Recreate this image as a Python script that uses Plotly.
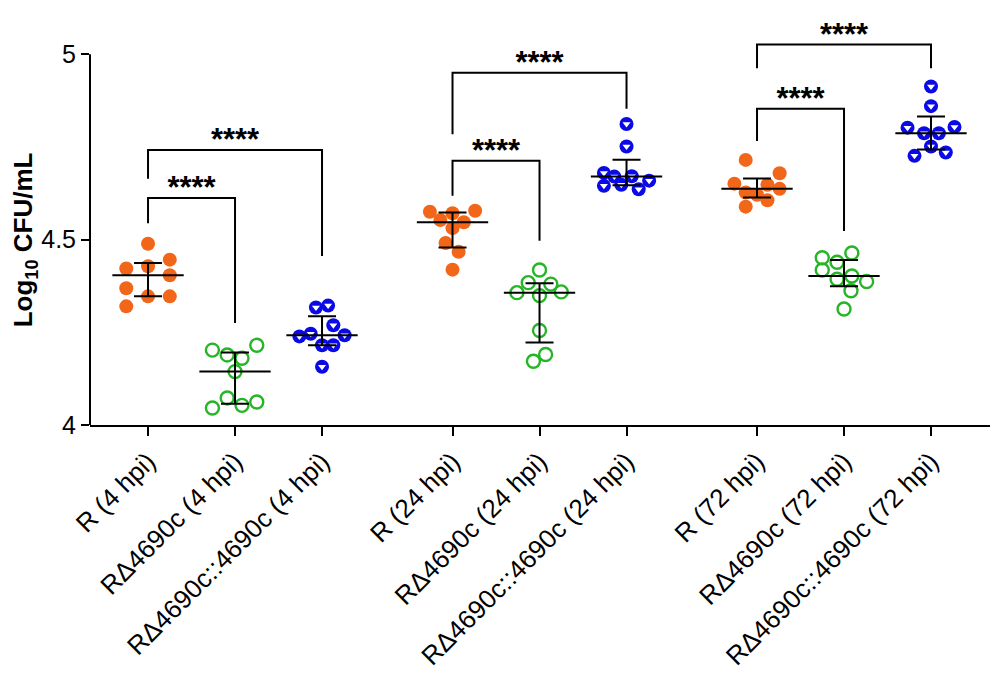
import numpy as np
import plotly.graph_objects as go

# groups: R, RΔ4690c, RΔ4690c::4690c at 4, 24 and 72 hpi
labels = [
    "R (4 hpi)", "RΔ4690c (4 hpi)", "RΔ4690c::4690c (4 hpi)",
    "R (24 hpi)", "RΔ4690c (24 hpi)", "RΔ4690c::4690c (24 hpi)",
    "R (72 hpi)", "RΔ4690c (72 hpi)", "RΔ4690c::4690c (72 hpi)",
]

# log10 CFU/mL
r_4hpi = [4.489, 4.446, 4.422, 4.428, 4.404, 4.369, 4.347, 4.347, 4.320]
del_4hpi = [4.202, 4.215, 4.189, 4.180, 4.144, 4.073, 4.062, 4.053, 4.046]
comp_4hpi = [4.317, 4.322, 4.269, 4.239, 4.246, 4.242, 4.215, 4.215, 4.157]
r_24hpi = [4.575, 4.571, 4.578, 4.553, 4.547, 4.531, 4.491, 4.467, 4.419]
del_24hpi = [4.418, 4.384, 4.380, 4.357, 4.349, 4.359, 4.255, 4.190, 4.172]
comp_24hpi = [4.812, 4.751, 4.680, 4.670, 4.671, 4.659, 4.645, 4.648, 4.636]
r_72hpi = [4.715, 4.679, 4.651, 4.648, 4.637, 4.627, 4.621, 4.606, 4.589]
del_72hpi = [4.464, 4.451, 4.439, 4.418, 4.402, 4.393, 4.387, 4.362, 4.313]
comp_72hpi = [4.913, 4.860, 4.802, 4.804, 4.787, 4.787, 4.751, 4.726, 4.735]

# horizontal scatter of the dots (category units)
jit_r_4 = [0, .25, -.25, 0, .25, -.25, 0, .25, -.25]
jit_del_4 = [-.26, .25, -.09, .08, 0, -.09, .25, .08, -.26]
jit_comp_4 = [-.07, .07, .13, -.26, -.13, .26, 0, .13, 0]
jit_r_24 = [-.26, 0, .26, -.14, .13, 0, -.08, .07, 0]
jit_del_24 = [0, -.13, .13, -.26, 0, .25, 0, .07, -.07]
jit_comp_24 = [0, 0, -.26, -.14, .06, .26, -.26, -.06, .14]
jit_r_72 = [-.13, .26, -.26, .12, .26, -.13, 0, .12, -.13]
jit_del_72 = [.09, -.25, -.08, -.25, .09, -.08, .26, .08, 0]
jit_comp_72 = [0, 0, -.27, .27, -.08, .09, 0, -.19, .17]

values = [r_4hpi, del_4hpi, comp_4hpi, r_24hpi, del_24hpi, comp_24hpi,
          r_72hpi, del_72hpi, comp_72hpi]
jitter = [jit_r_4, jit_del_4, jit_comp_4, jit_r_24, jit_del_24, jit_comp_24,
          jit_r_72, jit_del_72, jit_comp_72]

# significance brackets: left group, right group, bar level, left leg end, right leg end
br_left = [0, 0, 3, 3, 6, 6]
br_right = [1, 2, 4, 5, 7, 8]
br_top = [4.612, 4.742, 4.713, 4.950, 4.853, 5.026]
br_left_end = [4.544, 4.664, 4.618, 4.784, 4.766, 4.962]
br_right_end = [4.275, 4.456, 4.497, 4.853, 4.523, 4.962]
br_text = ["****"] * 6

ORANGE = "#F2661A"
GREEN = "#26B526"
BLUE = "#0A0AE6"
FONT = "Arial, Liberation Sans, sans-serif"

positions = [(i // 3) * 3.5 + (i % 3) for i in range(len(labels))]

fig = go.Figure()

for g, (vals, jit) in enumerate(zip(values, jitter)):
    xc = positions[g]
    xs = [xc + j for j in jit]
    kind = g % 3
    if kind == 0:
        fig.add_trace(go.Scatter(x=xs, y=vals, mode="markers",
                                 marker=dict(symbol="circle", size=14, color=ORANGE,
                                             line=dict(width=0))))
    elif kind == 1:
        fig.add_trace(go.Scatter(x=xs, y=vals, mode="markers",
                                 marker=dict(symbol="circle-open", size=13, color=GREEN,
                                             line=dict(width=2.4, color=GREEN))))
    else:
        fig.add_trace(go.Scatter(x=xs, y=vals, mode="markers",
                                 marker=dict(symbol="circle", size=14, color=BLUE,
                                             line=dict(width=0))))
        # white lower half, GraphPad "half filled" look
        fig.add_trace(go.Scatter(x=xs, y=vals, mode="markers",
                                 marker=dict(symbol="triangle-down", size=7, color="white",
                                             line=dict(width=0))))

# median with interquartile range
for g, vals in enumerate(values):
    xc = positions[g]
    med = float(np.median(vals))
    q1, q3 = np.percentile(vals, [25, 75], method="weibull")
    fig.add_trace(go.Scatter(x=[xc - 0.41, xc + 0.41], y=[med, med], mode="lines",
                             line=dict(color="black", width=2)))
    fig.add_trace(go.Scatter(
        x=[xc], y=[med], mode="markers",
        marker=dict(size=1, color="rgba(0,0,0,0)"),
        error_y=dict(type="data", symmetric=False, array=[q3 - med],
                     arrayminus=[med - q1], color="black", thickness=2, width=14)))

# stars sit about 7 px above the point with middle alignment
star_lift = 7.5 / 375
for a, b, top, yl, yr, t in zip(br_left, br_right, br_top, br_left_end, br_right_end, br_text):
    xl, xr = positions[a], positions[b]
    fig.add_trace(go.Scatter(x=[xl, xl, xr, xr], y=[yl, top, top, yr], mode="lines",
                             line=dict(color="black", width=2), cliponaxis=False))
    fig.add_trace(go.Scatter(x=[(xl + xr) / 2], y=[top + star_lift], mode="text",
                             text=["<b>" + t + "</b>"],
                             textposition="middle center", cliponaxis=False,
                             textfont=dict(family=FONT, size=31, color="black")))

fig.add_shape(type="line", xref="paper", yref="y", x0=0, x1=0, y0=4, y1=5,
              line=dict(color="black", width=2))

# y title centred on the 4-5 span of the axis
fig.add_annotation(text="<b>Log<sub>10</sub> CFU/mL</b>", textangle=-90,
                   xref="paper", yref="y", x=-0.0725, y=4.5,
                   xanchor="center", yanchor="middle", showarrow=False,
                   font=dict(family=FONT, size=26, color="black"))

# page body has an 8 px margin, so the figure is 8 px smaller than the window
fig.update_layout(
    width=992, height=673,
    margin=dict(l=82, r=10, t=24, b=251.5),
    showlegend=False,
    plot_bgcolor="white", paper_bgcolor="white",
    font=dict(family=FONT, color="black"),
    xaxis=dict(
        range=[-0.667, 9.678], tickvals=positions, ticktext=labels,
        tickangle=-45, ticks="outside", ticklen=9, tickwidth=2, tickcolor="black",
        showline=True, linecolor="black", linewidth=2,
        showgrid=False, zeroline=False, tickfont=dict(size=26),
    ),
    yaxis=dict(
        range=[4, 5.06], tickvals=[4, 4.5, 5], ticktext=["4", "4.5", "5"],
        ticks="outside", ticklen=8, tickwidth=2, tickcolor="black",
        showline=False, showgrid=False, zeroline=False, tickfont=dict(size=25),
        automargin=False,
    ),
)

fig.write_html("out.html")
